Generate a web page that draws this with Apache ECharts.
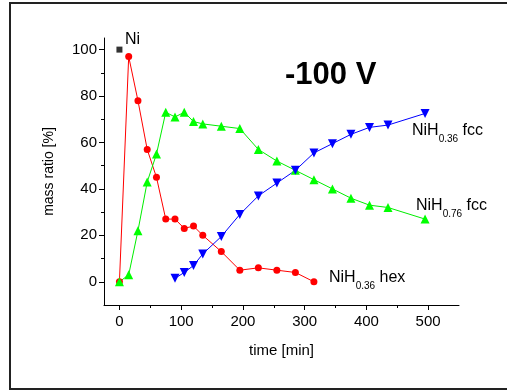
<!DOCTYPE html>
<html><head><meta charset="utf-8">
<script src="https://cdn.jsdelivr.net/npm/echarts@6/dist/echarts.min.js"></script>
<style>html,body{margin:0;padding:0;background:#fff}#c{width:507px;height:390px}</style>
</head><body><div id="c"></div>
<script>
// Data
const hexTimes = [0,15,30,45,60,75,90,105,120,135,165,195,225,255,285,315];
const hexValues = [0,97,78,57,45,27,27,23,24,20,13,5,6,5,4,0];
const fcc76Times = [0,15,30,45,60,75,90,105,120,135,165,195,225,255,285,315,345,375,405,435,495];
const fcc76Values = [0,3,22,43,55,73,71,73,69,68,67,66,57,52,48,44,40,36,33,32,27];
const fcc36Times = [90,105,120,135,165,195,225,255,285,315,345,375,405,435,495];
const fcc36Values = [1.5,4,7,12,19.5,29,37,42.5,48,55.5,59.5,63.5,66.5,67.5,72.5];
const niPoint = [[0,100]];
const xTicks = [0,100,200,300,400,500];
const xMinor = [50,150,250,350,450];
const yTicks = [0,20,40,60,80,100];
const yMinor = [10,30,50,70,90];

const zip = (a,b) => a.map((t,i)=>[t,b[i]]);
const FONT = '"Liberation Sans", Arial, sans-serif';
const chart = echarts.init(document.getElementById('c'), null, {renderer:'canvas'});
chart.setOption({
  animation:false,
  backgroundColor:'#fff',
  grid:{left:104, top:38, right:48, bottom:85},
  xAxis:[
    {type:'value', position:'bottom', min:-25, max:550, splitLine:{show:false},
      axisLine:{show:true, onZero:false, lineStyle:{color:'#000', width:1}},
      name:'time [min]', nameLocation:'middle', nameGap:38,
      nameTextStyle:{fontFamily:FONT, fontSize:15, color:'#000'},
      axisTick:{show:true, inside:false, length:5, customValues:xTicks, lineStyle:{color:'#000'}},
      axisLabel:{show:true, margin:9, customValues:xTicks, fontFamily:FONT, fontSize:15, color:'#000'}},
    {type:'value', position:'bottom', offset:0, min:-25, max:550, splitLine:{show:false},
      axisLine:{show:false, onZero:false},
      axisTick:{show:true, inside:false, length:3, customValues:xMinor, lineStyle:{color:'#000'}},
      axisLabel:{show:false}}
  ],
  yAxis:[
    {type:'value', position:'left', min:-10, max:105, splitLine:{show:false},
      axisLine:{show:true, onZero:false, lineStyle:{color:'#000', width:1}},
      name:'mass ratio [%]', nameLocation:'middle', nameGap:48, nameRotate:90,
      nameTextStyle:{fontFamily:FONT, fontSize:14, color:'#000'},
      axisTick:{show:true, inside:false, length:5, customValues:yTicks, lineStyle:{color:'#000'}},
      axisLabel:{show:true, margin:7, customValues:yTicks, fontFamily:FONT, fontSize:15, color:'#000'}},
    {type:'value', position:'left', offset:0, min:-10, max:105, splitLine:{show:false},
      axisLine:{show:false, onZero:false},
      axisTick:{show:true, inside:false, length:3, customValues:yMinor, lineStyle:{color:'#000'}},
      axisLabel:{show:false}}
  ],
  series:[
    {type:'line', name:'NiH0.36 hex', data:zip(hexTimes,hexValues), symbol:'circle', symbolSize:7,
      itemStyle:{color:'#ff0000'}, lineStyle:{color:'#ff0000', width:1}},
    {type:'line', name:'NiH0.76 fcc', data:zip(fcc76Times,fcc76Values), symbol:'triangle', symbolSize:9,
      itemStyle:{color:'#00ff00'}, lineStyle:{color:'#00ee00', width:1}},
    {type:'line', name:'NiH0.36 fcc', data:zip(fcc36Times,fcc36Values), symbol:'triangle', symbolRotate:180, symbolSize:9,
      itemStyle:{color:'#0000ff'}, lineStyle:{color:'#0000ff', width:1}},
    {type:'scatter', name:'Ni', data:niPoint, symbol:'rect', symbolSize:6, itemStyle:{color:'#000'}}
  ],
  graphic:[
    {type:'rect', silent:true, z:-1, shape:{x:10, y:3, width:600, height:386},
      style:{fill:'none', stroke:'#222', lineWidth:2}},
    {type:'text', left:285, top:60, style:{text:'-100 V', fontFamily:FONT, fontWeight:'bold', fontSize:31, fill:'#000'}},
    {type:'text', left:125, top:32, style:{text:'Ni', fontFamily:FONT, fontSize:16, fill:'#000'}},
    {type:'text', left:412, top:123, style:{text:'{a|NiH}{s|0.36}{a| fcc}', fill:'#000',
      rich:{a:{fontFamily:FONT, fontSize:16, lineHeight:18, verticalAlign:'top'},
            s:{fontFamily:FONT, fontSize:10, lineHeight:10, padding:[11,0,0,0], verticalAlign:'top'}}}},
    {type:'text', left:416, top:198, style:{text:'{a|NiH}{s|0.76}{a| fcc}', fill:'#000',
      rich:{a:{fontFamily:FONT, fontSize:16, lineHeight:18, verticalAlign:'top'},
            s:{fontFamily:FONT, fontSize:10, lineHeight:10, padding:[11,0,0,0], verticalAlign:'top'}}}},
    {type:'text', left:329, top:270, style:{text:'{a|NiH}{s|0.36}{a| hex}', fill:'#000',
      rich:{a:{fontFamily:FONT, fontSize:16, lineHeight:18, verticalAlign:'top'},
            s:{fontFamily:FONT, fontSize:10, lineHeight:10, padding:[11,0,0,0], verticalAlign:'top'}}}}
  ]
});
</script></body></html>
